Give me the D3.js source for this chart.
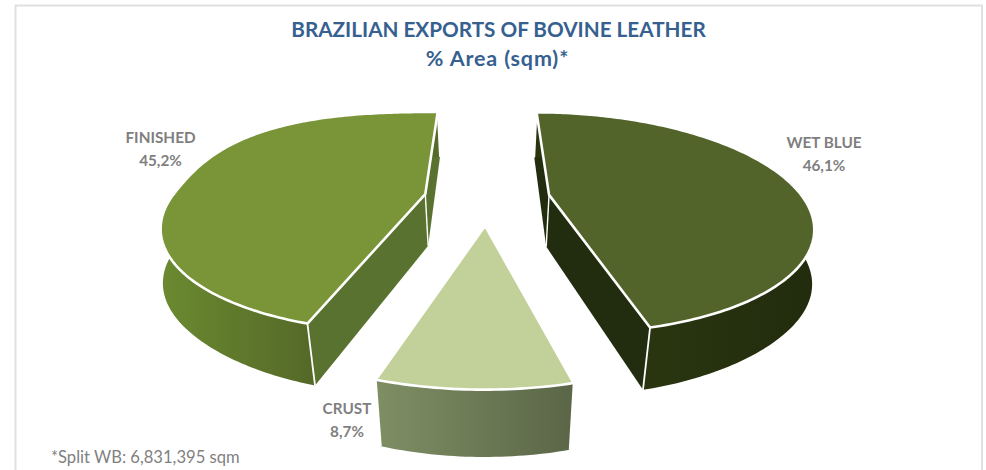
<!DOCTYPE html>
<html><head><meta charset="utf-8">
<script src="https://cdn.jsdelivr.net/npm/d3@7/dist/d3.min.js"></script>
<style>html,body{margin:0;padding:0;background:#fff}svg{display:block}text{font-family:Lato,"Open Sans",sans-serif;font-weight:700}</style>
</head><body><svg id="c" width="986" height="470"></svg>
<script>
const categories = ["WET BLUE","CRUST","FINISHED"];
const shares = [46.1,8.7,45.2];
const valueLabels = ["46,1%","8,7%","45,2%"];
const topColors = ["#53642a","#c2d199","#7a9438"];
const rimStart = ["#222c0e","#7f8f64","#6b8a30"];
const rimEnd = ["#2a3510","#5a6647","#556a28"];
const radialColors = ["#222c0e","#6f7d55","#5a7230"];
const rimBulge = [0,0,.08];
const labelPos = [[824,148],[347,414],[160.5,143]];
const titleLines = ["BRAZILIAN EXPORTS OF BOVINE LEATHER","% Area (sqm)*"];
const footnote = "*Split WB: 6,831,395 sqm";

const x0=487,y0=198,R=254,explode=63,bTilt=.413,persp=.001,shrink=.046,depth=52;
const svg=d3.select("#c");
const defs=svg.append("defs");
const frame=d3.line()([[15.5,474],[15.5,5.5],[982,5.5],[982,474]]);
svg.append("path").attr("d",frame).attr("fill","#fff").attr("stroke","#e0e0e0").attr("stroke-width",2);

const pie=d3.pie().sort(null).value(d=>d);
const slices=pie(shares);
const proj=(X,Y)=>{const w=1/(1-persp*Y);return [x0+X*w,y0+bTilt*Y*w,w];};
const low=p=>{
  const dx=p[0]-x0,f=1-Math.pow(Math.abs(dx)/340,4);
  return [p[0]-dx*shrink*f,y0+(p[1]-y0)*(1-shrink)+depth*p[2]];
};
const line=d3.line();
const path=pts=>line(pts)+"Z";

[1,0,2].forEach(i=>{
  const s=slices[i],mid=(s.startAngle+s.endAngle)/2;
  const ex=explode*Math.sin(mid),ey=-explode*Math.cos(mid);
  const apex=proj(ex,ey);
  const n=Math.ceil((s.endAngle-s.startAngle)*60);
  const rim=d3.range(n+1).map(k=>{
    const a=s.startAngle+(s.endAngle-s.startAngle)*k/n;
    const back=Math.cos(a)>0?Math.pow(Math.sin(2*a),2):0;
    const r=R*(1+rimBulge[i]*back);
    return proj(ex+r*Math.sin(a),ey-r*Math.cos(a));
  });
  const first=rim[0],last=rim[n];
  const g=svg.append("g").attr("class","slice");
  const xs=d3.extent(rim.filter(p=>p[1]>y0+5),p=>p[0]);
  const id="rim"+i;
  const gr=defs.append("linearGradient").attr("id",id).attr("gradientUnits","userSpaceOnUse")
    .attr("x1",xs[0]).attr("x2",xs[1]).attr("y1",0).attr("y2",0);
  gr.append("stop").attr("offset",0).attr("stop-color",i==0?rimEnd[i]:rimStart[i]);
  gr.append("stop").attr("offset",1).attr("stop-color",i==0?rimStart[i]:rimEnd[i]);
  [first,last].forEach(p=>{
    g.append("path").attr("d",path([apex,p,low(p),low(apex)])).attr("fill",radialColors[i]);
  });
  g.append("path").attr("d",line([apex,low(apex)])).attr("stroke","#fff").attr("stroke-width",1.4).attr("fill","none");
  g.append("path").attr("d",path(rim.concat(rim.map(low).reverse()))).attr("fill",`url(#${id})`);
  [first,last].forEach(p=>{
    g.append("path").attr("d",line([p,low(p)])).attr("stroke","#fff").attr("stroke-width",1.8).attr("fill","none");
  });
  g.append("path").attr("d",path([apex].concat(rim))).attr("fill",topColors[i])
    .attr("stroke","#fff").attr("stroke-width",2.6).attr("stroke-linejoin","round");
});

const title=svg.append("g").attr("fill","#36608f").attr("text-anchor","middle");
title.append("text").attr("x",498.5).attr("y",36.5).attr("font-size",20.7).text(titleLines[0]);
title.append("text").attr("x",497.5).attr("y",66).attr("font-size",21.5).attr("letter-spacing",.85).text(titleLines[1]);
categories.forEach((c,i)=>{
  const g=svg.append("g").attr("fill","#7f7f7f").attr("text-anchor","middle").attr("font-size",15.3);
  g.append("text").attr("x",labelPos[i][0]).attr("y",labelPos[i][1]).text(c);
  g.append("text").attr("x",labelPos[i][0]).attr("y",labelPos[i][1]+22.5).text(valueLabels[i]);
});
svg.append("text").attr("x",51).attr("y",462.5).attr("fill","#7f7f7f").attr("font-size",16.6).style("font-weight",400).text(footnote);
</script></body></html>
